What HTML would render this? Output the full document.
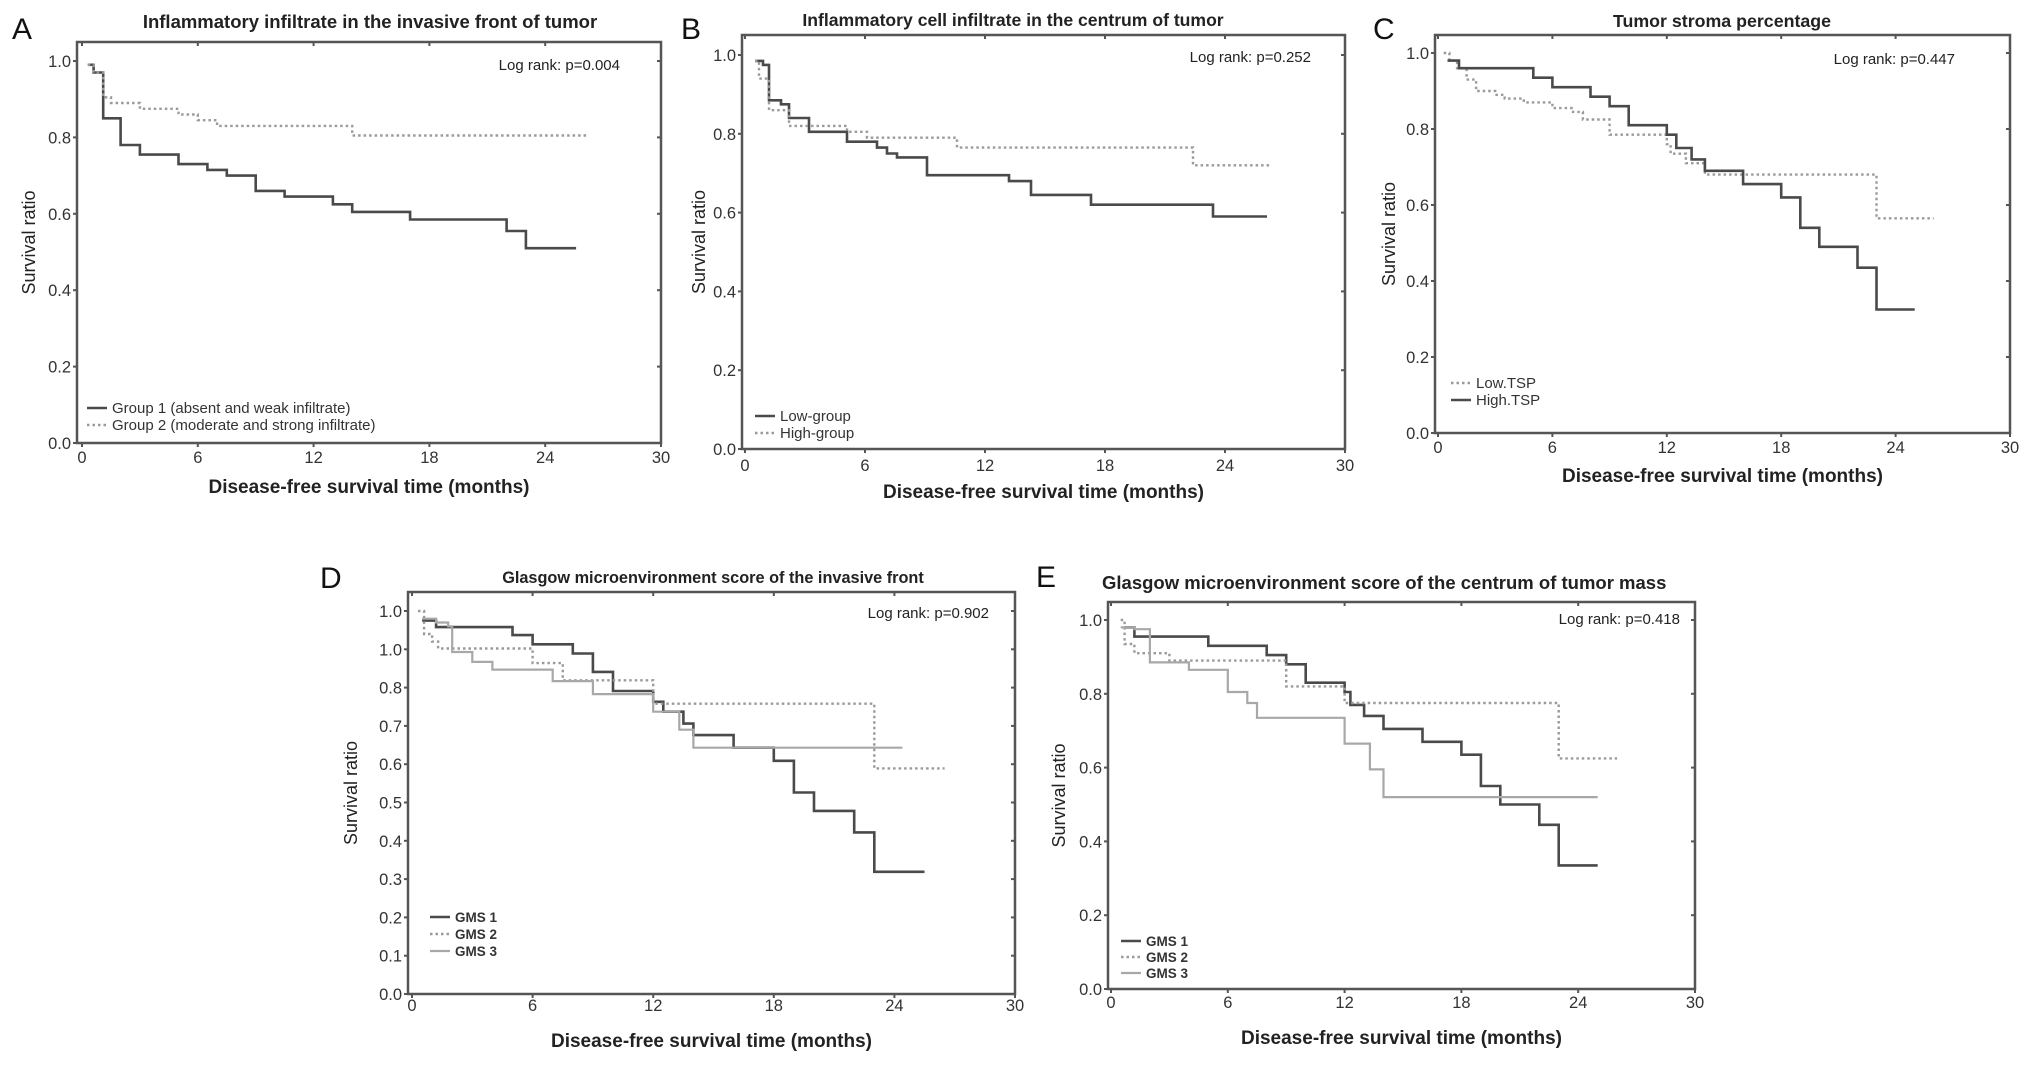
<!DOCTYPE html>
<html><head><meta charset="utf-8">
<style>
html,body{margin:0;padding:0;background:#fff;}
svg{display:block;font-family:"Liberation Sans",sans-serif;}
</style></head>
<body>
<svg id="fig" width="2031" height="1083" viewBox="0 0 2031 1083"></svg>
<script>
// ---- Tick label arrays ----
const xTicks = [0, 6, 12, 18, 24, 30];
const yTicksStd = [0, 0.2, 0.4, 0.6, 0.8, 1.0];
const yLabelsStd = ["0.0", "0.2", "0.4", "0.6", "0.8", "1.0"];
const yTicksD = [0, 0.1, 0.2, 0.3, 0.4, 0.5, 0.6, 0.7, 0.8, 0.9, 1.0];
const yLabelsD = ["0.0", "0.1", "0.2", "0.3", "0.4", "0.5", "0.6", "0.7", "0.8", "1.0", "1.0"];

// ---- Panel A ----
const aG1Times = [0.3, 0.6, 1.1, 2.0, 3.0, 5.0, 6.5, 7.5, 9.0, 10.5, 13.0, 14.0, 17.0, 22.0, 23.0, 25.6];
const aG1Surv  = [0.99, 0.97, 0.85, 0.78, 0.755, 0.73, 0.715, 0.70, 0.66, 0.645, 0.625, 0.605, 0.585, 0.555, 0.51];
const aG2Times = [0.3, 0.6, 1.1, 1.5, 3.0, 5.0, 6.0, 7.0, 14.0, 26.2];
const aG2Surv  = [0.99, 0.97, 0.905, 0.89, 0.875, 0.86, 0.845, 0.83, 0.805];

// ---- Panel B ----
const bLowTimes = [0.5, 0.9, 1.2, 1.8, 2.2, 3.2, 5.1, 6.6, 7.1, 7.6, 9.1, 13.2, 14.3, 17.3, 23.4, 26.1];
const bLowSurv  = [0.985, 0.975, 0.885, 0.875, 0.84, 0.805, 0.78, 0.765, 0.75, 0.74, 0.695, 0.68, 0.645, 0.62, 0.59];
const bHighTimes = [0.5, 0.7, 1.2, 2.2, 5.1, 6.1, 10.6, 22.4, 26.3];
const bHighSurv  = [0.985, 0.94, 0.86, 0.82, 0.805, 0.79, 0.765, 0.72];

// ---- Panel C ----
const cHighTimes = [0.5, 1.1, 5.0, 6.0, 8.0, 9.0, 10.0, 12.0, 12.5, 13.3, 14.0, 16.0, 18.0, 19.0, 20.0, 22.0, 23.0, 25.0];
const cHighSurv  = [0.98, 0.96, 0.935, 0.91, 0.885, 0.86, 0.81, 0.785, 0.75, 0.72, 0.69, 0.655, 0.62, 0.54, 0.49, 0.435, 0.325];
const cLowTimes = [0.3, 0.6, 1.0, 1.5, 2.0, 3.0, 3.5, 4.5, 6.0, 7.0, 7.6, 9.0, 12.0, 12.2, 13.0, 14.0, 23.0, 26.0];
const cLowSurv  = [1.0, 0.98, 0.96, 0.93, 0.90, 0.89, 0.88, 0.87, 0.855, 0.845, 0.825, 0.785, 0.76, 0.735, 0.71, 0.68, 0.565];

// ---- Panel D ----
const dG1Times = [0.5, 1.2, 5.0, 6.0, 8.0, 9.0, 10.0, 12.0, 12.5, 13.5, 14.0, 16.0, 18.0, 19.0, 20.0, 22.0, 23.0, 25.5];
const dG1Surv  = [0.975, 0.958, 0.937, 0.913, 0.889, 0.841, 0.791, 0.763, 0.737, 0.706, 0.676, 0.643, 0.609, 0.526, 0.478, 0.422, 0.319];
const dG2Times = [0.3, 0.6, 1.0, 1.3, 6.0, 7.5, 12.0, 23.0, 26.5];
const dG2Surv  = [1.0, 0.94, 0.92, 0.902, 0.864, 0.819, 0.758, 0.589];
const dG3Times = [0.5, 1.2, 1.8, 2.0, 3.0, 4.0, 7.0, 9.0, 12.0, 13.3, 14.0, 24.4];
const dG3Surv  = [0.98, 0.97, 0.96, 0.893, 0.867, 0.847, 0.817, 0.783, 0.737, 0.69, 0.643];

// ---- Panel E ----
const eG1Times = [0.7, 1.2, 5.0, 8.0, 9.0, 10.0, 12.0, 12.3, 13.0, 14.0, 16.0, 18.0, 19.0, 20.0, 22.0, 23.0, 25.0];
const eG1Surv  = [0.98, 0.955, 0.93, 0.905, 0.88, 0.83, 0.805, 0.77, 0.74, 0.705, 0.67, 0.635, 0.55, 0.50, 0.445, 0.335];
const eG2Times = [0.5, 0.7, 1.2, 3.0, 9.0, 12.0, 23.0, 26.0];
const eG2Surv  = [1.0, 0.935, 0.91, 0.89, 0.82, 0.775, 0.625];
const eG3Times = [0.5, 1.2, 2.0, 4.0, 6.0, 7.0, 7.5, 12.0, 13.3, 14.0, 25.0];
const eG3Surv  = [0.98, 0.975, 0.885, 0.865, 0.805, 0.775, 0.735, 0.665, 0.595, 0.52];

const SVGNS = "http://www.w3.org/2000/svg";
const fig = document.getElementById("fig");
function mk(tag, attrs, parent, text) {
  const e = document.createElementNS(SVGNS, tag);
  for (const k in attrs) e.setAttribute(k, attrs[k]);
  if (text !== undefined) e.textContent = text;
  (parent || fig).appendChild(e);
  return e;
}

const STYLES = {
  dark:   {stroke: "#4a4a4a", width: 2.6, dash: null},
  dotted: {stroke: "#9a9a9a", width: 2.4, dash: "2.5,3"},
  light:  {stroke: "#a8a8a8", width: 2.2, dash: null}
};

function panel(cfg) {
  const g = mk("g", {});
  
  
  const L = cfg.left, R = cfg.right, T = cfg.top, B = cfg.bottom;
  const x = t => cfg.x0 + (t / 30) * (R - cfg.x0);
  const y = v => B - v * (B - cfg.y1);

  const letter = mk("text", {x: cfg.letterX, y: cfg.letterY, "font-size": 30, fill: "#111"}, g, cfg.id.toUpperCase());
  
  
  const title = mk("text", {x: cfg.titleX, y: cfg.titleY, "font-size": cfg.titleFont, "font-weight": "bold", fill: "#222", "text-anchor": cfg.titleAnchor || "middle"}, g, cfg.title);
  
  

  const frame = mk("rect", {x: L, y: T, width: R - L, height: B - T, fill: "none", stroke: "#555", "stroke-width": 2.5}, g);
  
  

  xTicks.forEach(t => {
    const xx = x(t);
    mk("line", {x1: xx, x2: xx, y1: B, y2: B + 4, stroke: "#555", "stroke-width": 2}, g);
    mk("line", {x1: xx, x2: xx, y1: T, y2: T + 4, stroke: "#555", "stroke-width": 2}, g);
    const lbl = mk("text", {x: xx, y: cfg.xTickY, "font-size": 16.5, fill: "#333", "text-anchor": "middle"}, g, String(t));
    
    
  });
  cfg.yTicks.forEach((v, i) => {
    const yy = y(v);
    mk("line", {x1: L - 4, x2: L, y1: yy, y2: yy, stroke: "#555", "stroke-width": 2}, g);
    mk("line", {x1: R - 4, x2: R, y1: yy, y2: yy, stroke: "#555", "stroke-width": 2}, g);
    const lbl = mk("text", {x: L - 6, y: yy + 6, "font-size": 16.5, fill: "#333", "text-anchor": "end"}, g, cfg.yLabels[i]);
    
    
  });

  const xt = mk("text", {x: (L + R) / 2, y: cfg.xTitleY, "font-size": 19, "font-weight": "bold", fill: "#222", "text-anchor": "middle"}, g, "Disease-free survival time (months)");
  
  
  const ycx = cfg.yTitleX, ycy = (T + B) / 2;
  const yt = mk("text", {x: ycx, y: ycy, "font-size": 18, fill: "#222", "text-anchor": "middle", transform: "rotate(-90 " + ycx + " " + ycy + ")"}, g, "Survival ratio");
  
  

  const lr = mk("text", {x: R - cfg.lrPad, y: cfg.lrY, "font-size": 15, fill: "#222", "text-anchor": "end"}, g, cfg.logrank);
  
  

  cfg.series.forEach((s, si) => {
    const st = STYLES[s.style];
    let d = "M" + x(s.times[0]).toFixed(1) + " " + y(s.surv[0]).toFixed(1);
    for (let i = 1; i < s.surv.length; i++) {
      d += " H" + x(s.times[i]).toFixed(1) + " V" + y(s.surv[i]).toFixed(1);
    }
    d += " H" + x(s.times[s.times.length - 1]).toFixed(1);
    const p = mk("path", {d: d, fill: "none", stroke: st.stroke, "stroke-width": st.width}, g);
    if (st.dash) p.setAttribute("stroke-dasharray", st.dash);
    
    

    const ly = cfg.legY + si * cfg.legStep;
    const le = mk("g", {}, g);
    
    
    const ll = mk("line", {x1: cfg.legX, x2: cfg.legX + 20, y1: ly, y2: ly, stroke: st.stroke, "stroke-width": st.width}, le);
    if (st.dash) ll.setAttribute("stroke-dasharray", st.dash);
    mk("text", {x: cfg.legX + 25, y: ly + 5, "font-size": cfg.legFont || 15, "font-weight": cfg.legBold ? "bold" : "normal", fill: "#333"}, le, s.label);
  });
}

panel({id: "a", left: 77, right: 661, top: 42, bottom: 443, x0: 82, y1: 61,
  letterX: 12, letterY: 39, titleX: 370, titleY: 28, titleFont: 18.5,
  title: "Inflammatory infiltrate in the invasive front of tumor",
  xTickY: 463, xTitleY: 493, yTitleX: 35, yTicks: yTicksStd, yLabels: yLabelsStd,
  logrank: "Log rank: p=0.004", lrPad: 41, lrY: 70,
  legX: 87, legY: 408, legStep: 17,
  series: [
    {key: "group-1", style: "dark", times: aG1Times, surv: aG1Surv, label: "Group 1 (absent and weak infiltrate)"},
    {key: "group-2", style: "dotted", times: aG2Times, surv: aG2Surv, label: "Group 2 (moderate and strong infiltrate)"}
  ]});

panel({id: "b", left: 742, right: 1345, top: 35, bottom: 449, x0: 745, y1: 55,
  letterX: 681, letterY: 39, titleX: 1013, titleY: 26, titleFont: 17.6,
  title: "Inflammatory cell infiltrate in the centrum of tumor",
  xTickY: 471, xTitleY: 498, yTitleX: 705, yTicks: yTicksStd, yLabels: yLabelsStd,
  logrank: "Log rank: p=0.252", lrPad: 34, lrY: 62,
  legX: 755, legY: 416, legStep: 17,
  series: [
    {key: "low-group", style: "dark", times: bLowTimes, surv: bLowSurv, label: "Low-group"},
    {key: "high-group", style: "dotted", times: bHighTimes, surv: bHighSurv, label: "High-group"}
  ]});

panel({id: "c", left: 1435, right: 2010, top: 35, bottom: 433, x0: 1438, y1: 53,
  letterX: 1373, letterY: 39, titleX: 1722, titleY: 27, titleFont: 17.8,
  title: "Tumor stroma percentage",
  xTickY: 453, xTitleY: 482, yTitleX: 1395, yTicks: yTicksStd, yLabels: yLabelsStd,
  logrank: "Log rank: p=0.447", lrPad: 55, lrY: 64,
  legX: 1451, legY: 383, legStep: 17,
  series: [
    {key: "low-tsp", style: "dotted", times: cLowTimes, surv: cLowSurv, label: "Low.TSP"},
    {key: "high-tsp", style: "dark", times: cHighTimes, surv: cHighSurv, label: "High.TSP"}
  ]});

panel({id: "d", left: 408, right: 1015, top: 592, bottom: 994, x0: 412, y1: 611,
  letterX: 320, letterY: 588, titleX: 713, titleY: 583, titleFont: 16.3,
  title: "Glasgow microenvironment score of the invasive front",
  xTickY: 1011, xTitleY: 1047, yTitleX: 357, yTicks: yTicksD, yLabels: yLabelsD,
  logrank: "Log rank: p=0.902", lrPad: 26, lrY: 618,
  legX: 430, legY: 917, legStep: 17, legFont: 13.5, legBold: true,
  series: [
    {key: "gms-1", style: "dark", times: dG1Times, surv: dG1Surv, label: "GMS 1"},
    {key: "gms-2", style: "dotted", times: dG2Times, surv: dG2Surv, label: "GMS 2"},
    {key: "gms-3", style: "light", times: dG3Times, surv: dG3Surv, label: "GMS 3"}
  ]});

panel({id: "e", left: 1108, right: 1695, top: 602, bottom: 989, x0: 1111, y1: 620,
  letterX: 1036, letterY: 587, titleX: 1102, titleY: 589, titleAnchor: "start", titleFont: 18.5,
  title: "Glasgow microenvironment score of the centrum of tumor mass",
  xTickY: 1008, xTitleY: 1044, yTitleX: 1065, yTicks: yTicksStd, yLabels: yLabelsStd,
  logrank: "Log rank: p=0.418", lrPad: 15, lrY: 624,
  legX: 1121, legY: 941, legStep: 16, legFont: 13.5, legBold: true,
  series: [
    {key: "gms-1", style: "dark", times: eG1Times, surv: eG1Surv, label: "GMS 1"},
    {key: "gms-2", style: "dotted", times: eG2Times, surv: eG2Surv, label: "GMS 2"},
    {key: "gms-3", style: "light", times: eG3Times, surv: eG3Surv, label: "GMS 3"}
  ]});
</script>
</body></html>
